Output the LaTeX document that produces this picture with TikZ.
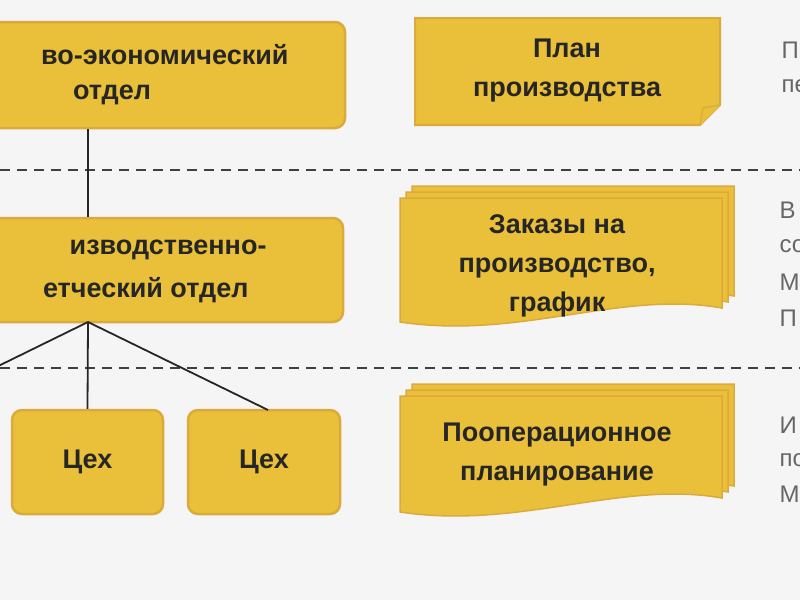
\documentclass[tikz,border=0pt]{standalone}
\usepackage{fontspec}
\setmainfont{Liberation Sans}
\begin{document}
\begin{tikzpicture}[x=1pt,y=-1pt,
  box/.style={draw=gold!65!brown,line width=2.5pt,fill=gold,rounded corners=10pt},
  lbl/.style={font=\fontsize{27}{39}\selectfont\bfseries,align=center,text=black!85},
  side/.style={font=\fontsize{24}{34}\selectfont,text=black!60,anchor=west},
  conn/.style={line width=1.8pt,black!85},
  sep/.style={line width=2pt,dash pattern=on 10pt off 7pt,black!75},
  doc/.style={draw=gold!65!brown,line width=1.5pt,fill=gold}]
\definecolor{gold}{RGB}{234,192,58}
\fill[black!4] (0,0) rectangle (800,600);
\clip (0,0) rectangle (800,600);
\useasboundingbox (0,0) rectangle (800,600);
% dashed separators
\draw[sep] (0,170) -- (800,170);
\draw[sep] (0,368) -- (800,368);
% left boxes
\node[box,minimum width=380pt,minimum height=106pt] (top) at (155,75) {};
\node[lbl,anchor=east] (toptxt) at (292,55) {во-экономический};
\node[lbl] (toptxt2) at (112,95) {отдел};
\node[box,minimum width=378pt,minimum height=104pt] (mid) at (154,270) {};
\node[lbl,anchor=east] (midtxt) at (270,250) {изводственно-};
\node[lbl,anchor=east] (midtxt2) at (252,290) {етческий отдел};
\node[box,minimum width=151pt,minimum height=104pt] (c1) at (87.5,462) {};
\node[lbl] at (c1) {Цех};
\node[box,minimum width=152pt,minimum height=104pt] (c2) at (264,462) {};
\node[lbl] at (c2) {Цех};
\coordinate (hub) at (88,322);
\coordinate (lft) at (-20,375);
\draw[conn] (top.south -| hub) -- (mid.north -| hub);
\draw[conn] (hub) -- (lft);
\draw[conn] (hub) -- (c1.north);
\draw[conn] (hub) -- (268,410);
% plan document
\draw[doc,line width=2pt] (415,18) -- (720,18) -- (720,105) -- (700,125) -- (415,125) -- cycle;
\draw[doc,line width=1.2pt] (720,105) -- (703,108) -- (700,125);
\node[lbl] (plan) at (567,71) {План\\производства};
% stacked docs
\foreach \yt/\yb in {190/330, 388/520}{
  \foreach \o in {12,6,0}{
    \draw[doc] (400+\o,\yt+8-\o) -- (722+\o,\yt+8-\o) -- (722+\o,\yb-22-\o)
      .. controls (620+\o,\yb-40-\o) and (520+\o,\yb+10-\o) .. (400+\o,\yb-8-\o) -- cycle;
  }
}
\node[lbl] (zak) at (557,266) {Заказы на\\производство,\\график};
\node[lbl] (poop) at (557,455) {Пооперационное\\планирование};
% side text
\node[side] (s1) at (778,50) {П};
\node[side] (s2) at (778,86) {пе};
\node[side] (s3) at (776,210) {В};
\node[side] (s4) at (776,246) {со};
\node[side] (s5) at (776,282) {М};
\node[side] (s6) at (776,318) {П};
\node[side] (s7) at (776,425) {И};
\node[side] (s8) at (776,460) {по};
\node[side] (s9) at (776,494) {М};
\end{tikzpicture}
\end{document}
